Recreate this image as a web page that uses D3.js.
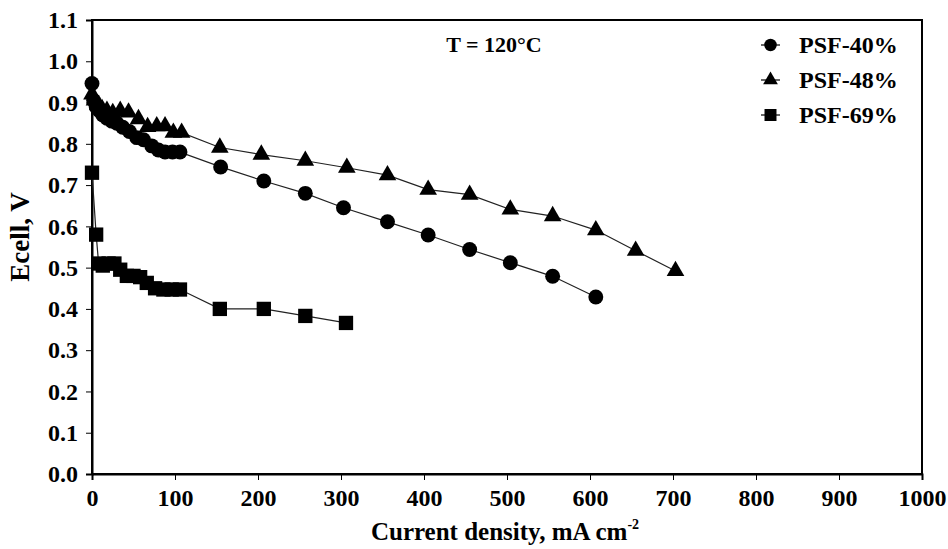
<!DOCTYPE html>
<html lang="en">
<head>
  <meta charset="UTF-8">
  <title>Ecell vs current density</title>
  <style>
    body {
      margin: 0;
      padding: 0;
      background: #fff;
    }
    svg text {
      font-family: 'Liberation Serif', 'Times New Roman', serif;
      font-weight: bold;
      fill: #000;
    }
  </style>
</head>
<body>

<script src="https://d3js.org/d3.v7.min.js"></script>

<script>
  // Data
  const psf40X = [0, 2, 5, 9, 13, 18, 24, 30, 37, 45, 54, 62, 72, 80, 88, 97, 106, 155, 207, 257, 303, 356, 405, 455, 504, 555, 607];
  const psf40Y = [0.946, 0.905, 0.89, 0.88, 0.87, 0.862, 0.855, 0.85, 0.84, 0.83, 0.815, 0.81, 0.795, 0.785, 0.78, 0.78, 0.78, 0.744, 0.71, 0.68, 0.645, 0.611, 0.579, 0.544, 0.512, 0.479, 0.429];

  const psf48X = [0, 3, 7, 12, 18, 25, 34, 44, 56, 67, 78, 88, 98, 108, 154, 204, 257, 307, 356, 405, 455, 504, 555, 607, 655, 703];
  const psf48Y = [0.92, 0.905, 0.895, 0.885, 0.88, 0.875, 0.88, 0.876, 0.86, 0.841, 0.843, 0.843, 0.827, 0.827, 0.791, 0.774, 0.759, 0.742, 0.724, 0.689, 0.677, 0.641, 0.625, 0.591, 0.541, 0.492];

  const psf69X = [0, 5, 8, 13, 20, 27, 34, 42, 50, 58, 66, 76, 86, 96, 106, 154, 207, 257, 306];
  const psf69Y = [0.73, 0.58, 0.51, 0.505, 0.51, 0.51, 0.495, 0.48, 0.48, 0.477, 0.463, 0.45, 0.447, 0.447, 0.447, 0.40, 0.40, 0.383, 0.366];

  const seriesNames = ['PSF-40%', 'PSF-48%', 'PSF-69%'];
  const xTicks = [0, 100, 200, 300, 400, 500, 600, 700, 800, 900, 1000];
  const yTicks = [0.0, 0.1, 0.2, 0.3, 0.4, 0.5, 0.6, 0.7, 0.8, 0.9, 1.0, 1.1];

  const series = [
    { name: seriesNames[0], xs: psf40X, ys: psf40Y, symbol: d3.symbolCircle, size: 175 },
    { name: seriesNames[1], xs: psf48X, ys: psf48Y, symbol: d3.symbolTriangle, size: 135 },
    { name: seriesNames[2], xs: psf69X, ys: psf69Y, symbol: d3.symbolSquare, size: 205 }
  ];

  const width = 948, height = 549;
  const margin = { left: 92, right: 26, top: 20, bottom: 75 };

  const svg = d3.select('body').append('svg')
    .attr('width', width)
    .attr('height', height);

  const x = d3.scaleLinear().domain([0, 1000]).range([margin.left, width - margin.right]);
  const y = d3.scaleLinear().domain([0, 1.1]).range([height - margin.bottom, margin.top]);

  // Plot frame
  svg.append('rect')
    .attr('x', x(0))
    .attr('y', y(1.1))
    .attr('width', x(1000) - x(0))
    .attr('height', y(0) - y(1.1))
    .attr('fill', 'none')
    .attr('stroke', '#000')
    .attr('stroke-width', 2);

  // Axes
  const xAxis = svg.append('g')
    .attr('transform', `translate(0,${y(0)})`)
    .call(d3.axisBottom(x).tickValues(xTicks).tickSize(6).tickPadding(9).tickFormat(d3.format('d')));
  xAxis.select('.domain').attr('stroke-width', 2);
  xAxis.selectAll('text').style('font-size', '24px');

  const yAxis = svg.append('g')
    .attr('transform', `translate(${x(0)},0)`)
    .call(d3.axisLeft(y).tickValues(yTicks).tickSize(6).tickPadding(8).tickFormat(d3.format('.1f')));
  yAxis.select('.domain').attr('stroke-width', 2);
  yAxis.selectAll('text').style('font-size', '24px');

  // Axis titles
  const xTitle = svg.append('text')
    .attr('x', 505)
    .attr('y', 540)
    .attr('text-anchor', 'middle')
    .style('font-size', '25px')
    .text('Current density, mA cm');
  xTitle.append('tspan')
    .attr('dy', -11)
    .style('font-size', '14px')
    .text('-2');

  svg.append('text')
    .attr('transform', `translate(29,${(y(0) + y(1.1)) / 2 - 10}) rotate(-90)`)
    .attr('text-anchor', 'middle')
    .style('font-size', '27px')
    .text('Ecell, V');

  // Annotation
  svg.append('text')
    .attr('x', 494)
    .attr('y', 52)
    .attr('text-anchor', 'middle')
    .style('font-size', '22px')
    .text('T = 120°C');

  const line = d3.line()
    .x(d => x(d[0]))
    .y(d => y(d[1]));

  // Series lines and markers
  series.forEach(s => {
    const pts = s.xs.map((v, i) => [v, s.ys[i]]);

    svg.append('path')
      .datum(pts)
      .attr('fill', 'none')
      .attr('stroke', '#222')
      .attr('stroke-width', 1.2)
      .attr('d', line);

    svg.selectAll(null)
      .data(pts)
      .enter().append('path')
      .attr('transform', d => `translate(${x(d[0])},${y(d[1])})`)
      .attr('d', d3.symbol().type(s.symbol).size(s.size))
      .attr('fill', '#000');
  });

  // Legend
  const legend = svg.append('g').attr('transform', 'translate(761,45)');
  series.forEach((s, i) => {
    const g = legend.append('g').attr('transform', `translate(0,${i * 35})`);
    g.append('line')
      .attr('x1', 0).attr('x2', 19)
      .attr('stroke', '#000').attr('stroke-width', 1.2);
    g.append('path')
      .attr('transform', 'translate(9.5,0)')
      .attr('d', d3.symbol().type(s.symbol).size(s.size * 0.7))
      .attr('fill', '#000');
    g.append('text')
      .attr('x', 38)
      .attr('dy', '0.35em')
      .style('font-size', '24px')
      .text(s.name);
  });
</script>

</body>
</html>
